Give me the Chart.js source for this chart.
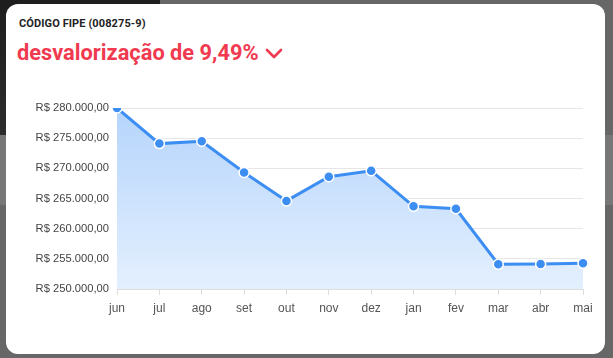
<!DOCTYPE html>
<html>
<head>
<meta charset="utf-8">
<script src="https://cdn.jsdelivr.net/npm/chart.js@4/dist/chart.umd.min.js"></script>
<style>
  html, body { margin:0; padding:0; width:613px; height:358px; overflow:hidden; background:#676767; }
  #bgdark { position:absolute; left:0; top:0; width:160px; height:135px; background:linear-gradient(180deg,#1e1e1e,#2c2c2c); }
  #bgmid { position:absolute; left:0; top:135px; width:613px; height:70px; background:#777; }
  #card { position:absolute; left:6px; top:4px; width:599px; height:350px; background:#fff; border-radius:12px; }
  #code { position:absolute; left:19px; top:17px; font-family:Roboto, sans-serif; font-weight:700; font-size:11px; color:#222; letter-spacing:0.1px; }
  #headline { position:absolute; left:17px; top:40px; font-family:Roboto, sans-serif; font-weight:700; font-size:21.8px; color:#f03a4f; white-space:nowrap; }
  #chev { position:absolute; left:265px; top:47px; }
  #wrap { position:absolute; left:0; top:0; width:613px; height:358px; }
</style>
</head>
<body>
<div id="bgdark"></div>
<div id="bgmid"></div>
<div id="card"></div>
<div id="code">CÓDIGO FIPE (008275-9)</div>
<div id="headline">desvalorização de 9,49%</div>
<svg id="chev" width="20" height="14" viewBox="0 0 20 14"><polyline points="2,3 9,10 16,3" fill="none" stroke="#f03a4f" stroke-width="2.6" stroke-linecap="round" stroke-linejoin="round"/></svg>
<div id="wrap"><canvas id="c" width="613" height="358"></canvas></div>
<script>
const months = ['jun','jul','ago','set','out','nov','dez','jan','fev','mar','abr','mai'];
const prices = [280000, 274100, 274500, 269300, 264600, 268600, 269600, 263700, 263300, 254100, 254150, 254250];
const yMin = 250000;
const yMax = 280000;
const yStep = 5000;

function brl(v){
  const s = Math.round(v).toString().replace(/\B(?=(\d{3})+(?!\d))/g,'.');
  return 'R$ ' + s + ',00';
}

const ctx = document.getElementById('c').getContext('2d');
Chart.defaults.font.family = "'Liberation Sans', Arial, sans-serif";
new Chart(ctx, {
  type: 'line',
  data: {
    labels: months,
    datasets: [{
      data: prices,
      borderColor: '#3d8ef3',
      borderWidth: 3,
      pointRadius: 5,
      pointHoverRadius: 5,
      pointBackgroundColor: '#3d8ef3',
      pointBorderColor: '#ffffff',
      pointBorderWidth: 1.5,
      tension: 0,
      fill: 'start',
      backgroundColor: (c) => {
        const area = c.chart.chartArea;
        if (!area) return 'rgba(61,142,243,0.3)';
        const g = c.chart.ctx.createLinearGradient(0, area.top, 0, area.bottom);
        g.addColorStop(0, '#b5d4fc');
        g.addColorStop(1, '#e4f0fe');
        return g;
      }
    }]
  },
  options: {
    responsive: false,
    animation: false,
    layout: { padding: { left: 0, right: 30, top: 108, bottom: 39 } },
    plugins: { legend: { display: false }, tooltip: { enabled: false } },
    scales: {
      x: {
        offset: false,
        grid: { drawOnChartArea: false, drawTicks: true, tickLength: 6, color: '#dddddd' },
        border: { color: '#dddddd' },
        ticks: { color: '#555', font: { size: 12 }, padding: 6, maxRotation: 0 },
        afterFit: (s) => { s.height = 30; }
      },
      y: {
        min: yMin, max: yMax,
        grid: { color: '#e6e6e6', drawTicks: false, lineWidth: 1 },
        border: { display: false },
        ticks: { stepSize: yStep, color: '#444', font: { size: 11.2 }, padding: 8, callback: (v) => brl(v) },
        afterFit: (s) => { s.width = 117; }
      }
    }
  }
});
</script>
</body>
</html>
